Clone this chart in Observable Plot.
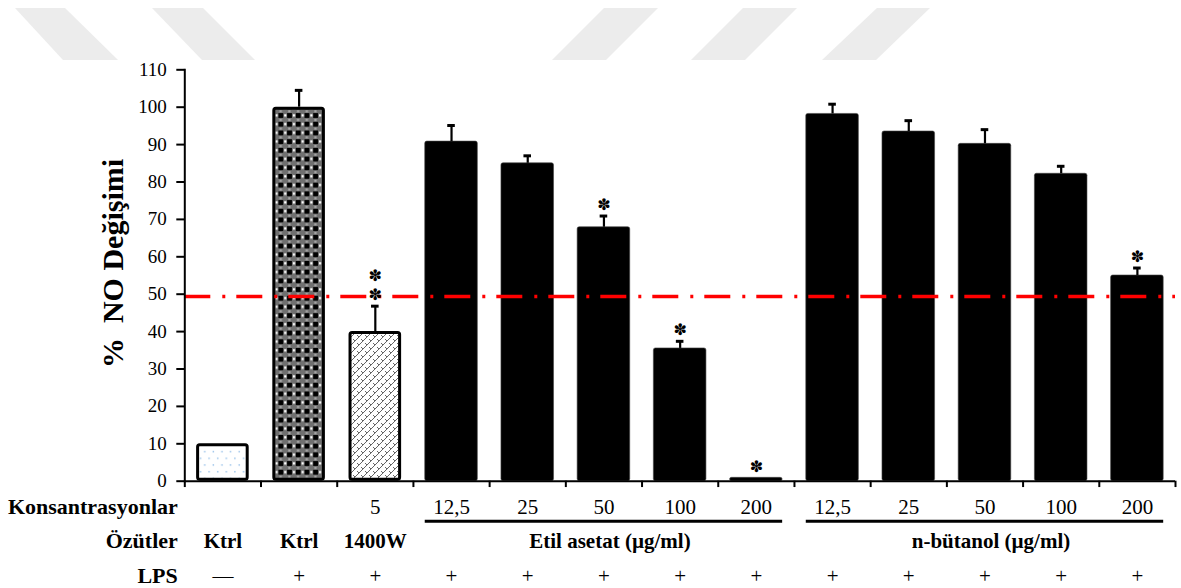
<!DOCTYPE html>
<html><head><meta charset="utf-8">
<script src="https://cdn.jsdelivr.net/npm/d3@7"></script>
<script src="https://cdn.jsdelivr.net/npm/@observablehq/plot@0.6"></script>
<style>
body{margin:0;background:#fff}
#chart{width:1181px;height:588px}
</style>
</head><body><div id="chart"></div>
<script>
// ---- data ----
const categories = ["k1","k2","w","e12","e25","e50","e100","e200","b12","b25","b50","b100","b200"];
const concentrationLabels = ["","","5","12,5","25","50","100","200","12,5","25","50","100","200"];
const extractLabels = ["Ktrl","Ktrl","1400W","","","","","","","","","",""];
const lpsLabels = ["—","+","+","+","+","+","+","+","+","+","+","+","+"];
const values = [10,100,40,90.8,85,67.9,35.5,0.9,98.2,93.5,90.2,82.2,55];
const errors = [0,4.5,6.8,4.3,2,3,1.9,0,2.6,2.9,3.8,2,2];
const asterisks = [0,0,2,0,0,1,1,1,0,0,0,0,1];
const fillStyles = ["dots","check","hatch","solid","solid","solid","solid","solid","solid","solid","solid","solid","solid"];
const groupNames = ["Etil asetat (µg/ml)","n-bütanol (µg/ml)"];
const groupFirst = ["e12","b12"];
const groupLast = ["e200","b200"];
const groupCenter = ["e50","b50"];
const rowLabels = ["Konsantrasyonlar","Özütler","LPS"];
const yTicks = [0,10,20,30,40,50,60,70,80,90,100,110];
const referenceLine = [49.4];
const yTitle = "%  NO Değişimi";
const starGlyph = "✽";

// ---- build table ----
const data = categories.map((id,i)=>({id, value:values[i], error:errors[i], stars:asterisks[i],
  fill:fillStyles[i], conc:concentrationLabels[i], ext:extractLabels[i], lps:lpsLabels[i]}));
const groups = groupNames.map((name,i)=>({name, first:groupFirst[i], last:groupLast[i], center:groupCenter[i]}));

const W = 1181, H = 588, ML = 184.3, MR = 6, MT = 69.3, MB = 107.3;
const step = (W - ML - MR) / categories.length;
const serif = "'Liberation Serif','Times New Roman',serif";
const starFont = "'DejaVu Sans',sans-serif";

const patterned = ["dots","check","hatch"].map(p =>
  Plot.barY(data.filter(d=>d.fill===p), {x:"id", y:"value", fill:`url(#pat-${p})`, stroke:"#000", strokeWidth:3, inset:1.5, rx:2}));

const plot = Plot.plot({
  width: W, height: H,
  marginLeft: ML, marginRight: MR, marginTop: MT, marginBottom: MB,
  style: {fontFamily: serif, fontSize: "19px", color: "#000", background: "transparent"},
  x: {domain: categories, paddingInner: 0.31, paddingOuter: 0.155, round: false, axis: null},
  y: {domain: [0,110], axis: null},
  marks: [
    Plot.barY(data.filter(d=>d.fill==="solid"), {x:"id", y:"value", fill:"#000", stroke:"#444", strokeWidth:0.6, rx:2}),
    ...patterned,
    Plot.ruleX(data.filter(d=>d.error>0), {x:"id", y1:"value", y2:d=>d.value+d.error, strokeWidth:2.2}),
    Plot.tickY(data.filter(d=>d.error>0), {x:"id", y:d=>d.value+d.error, strokeWidth:3, insetLeft:22.5, insetRight:22.5}),
    Plot.ruleY(referenceLine, {stroke:"#ff0000", strokeWidth:3.5, strokeDasharray:"26,12,3,11"}),
    Plot.text(data.filter(d=>d.stars>=1), {x:"id", y:d=>d.value+d.error, text:()=>starGlyph, dy:-11, fontSize:16, fontFamily:starFont, lineAnchor:"middle"}),
    Plot.text(data.filter(d=>d.stars>=2), {x:"id", y:d=>d.value+d.error, text:()=>starGlyph, dy:-30, fontSize:16, fontFamily:starFont, lineAnchor:"middle"}),
    Plot.axisY({ticks: yTicks, tickSize: 8, tickPadding: 10, strokeWidth: 2, fontSize: 19, label: null}),
    Plot.frame({anchor:"left", strokeWidth:2}),
    Plot.ruleY([0], {strokeWidth:2}),
    Plot.ruleX(categories, {x:d=>d, y1:0, y2:-1.7, dx:-step/2, strokeWidth:2}),
    Plot.ruleX(categories.slice(-1), {x:d=>d, y1:0, y2:-1.7, dx:step/2, strokeWidth:2}),
    Plot.text([yTitle], {text:d=>d, frameAnchor:"left", textAnchor:"middle", rotate:-90, dx:-71, dy:-12, fontSize:30, fontWeight:"bold"}),
    // bottom table
    Plot.text([rowLabels[0]], {text:d=>d, frameAnchor:"bottom-left", textAnchor:"end", dx:-7, dy:33, fontSize:22, fontWeight:"bold"}),
    Plot.text([rowLabels[1]], {text:d=>d, frameAnchor:"bottom-left", textAnchor:"end", dx:-7, dy:67, fontSize:22, fontWeight:"bold"}),
    Plot.text([rowLabels[2]], {text:d=>d, frameAnchor:"bottom-left", textAnchor:"end", dx:-7, dy:102, fontSize:22, fontWeight:"bold"}),
    Plot.text(data, {x:"id", text:"conc", frameAnchor:"bottom", dy:33, fontSize:21}),
    Plot.text(data, {x:"id", text:"ext", frameAnchor:"bottom", dy:67, fontSize:21, fontWeight:"bold"}),
    Plot.text(data, {x:"id", text:"lps", frameAnchor:"bottom", dy:102, fontSize:21}),
    Plot.ruleY(groups, {y:0, x1:"first", x2:"last", dy:40, strokeWidth:3}),
    Plot.text(groups, {x:"center", text:"name", frameAnchor:"bottom", dx:6, dy:67, fontSize:21, fontWeight:"bold"})
  ]
});

// patterns (fills for the control bars)
const svg = d3.select(plot);
svg.insert("defs", ":first-child").html(`
  <pattern id="pat-dots" width="8.6" height="13.4" patternUnits="userSpaceOnUse">
    <rect width="8.6" height="13.4" fill="#fff"/>
    <rect x="2" y="2" width="1.4" height="1.4" fill="#8fbde8"/>
    <rect x="6.3" y="8.7" width="1.4" height="1.4" fill="#8fbde8"/>
  </pattern>
  <pattern id="pat-check" width="8.7" height="8.7" patternUnits="userSpaceOnUse">
    <rect width="8.7" height="8.7" fill="#707070"/>
    <rect x="0" y="0" width="4.8" height="4.8" fill="#000"/>
    <rect x="5.8" y="1.2" width="2.2" height="2.2" fill="#fff"/>
    <rect x="1.2" y="5.8" width="2.2" height="2.2" fill="#a8a8a8"/>
  </pattern>
  <pattern id="pat-hatch" width="8" height="8" patternUnits="userSpaceOnUse">
    <rect width="8" height="8" fill="#fff"/>
    <path d="M0,8 L8,0 M-2,2 L2,-2 M6,10 L10,6 M1,3 L3,5 M5,7 L7,9 M5,-1 L7,1" stroke="#666" stroke-width="1"/>
  </pattern>`);
// decorative page watermark at the top
const wm = svg.insert("g", "defs + *").attr("fill", "#ececec");
[[[15,8],[65,8],[118,60],[63,60]],[[152,8],[203,8],[255,60],[202,60]],
 [[604,8],[658,8],[606,60],[552,60]],[[743,8],[797,8],[745,60],[691,60]],[[877,8],[930,8],[876,60],[822,60]]]
 .forEach(p => wm.append("polygon").attr("points", p.map(q=>q.join(",")).join(" ")));

document.getElementById("chart").appendChild(plot);
</script>
</body></html>
